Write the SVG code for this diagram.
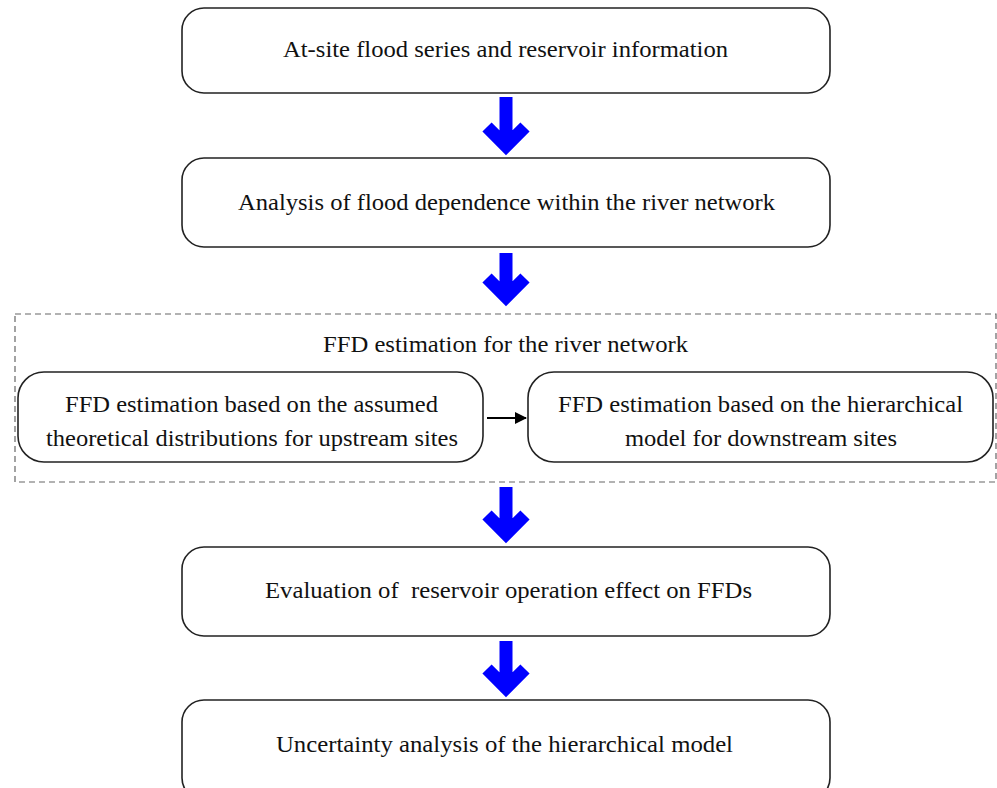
<svg xmlns="http://www.w3.org/2000/svg" width="997" height="788" viewBox="0 0 997 788">
<defs>
<style>
.box{fill:#fff;stroke:#222;stroke-width:1.6}
.t{font-family:"Liberation Serif","Times New Roman",serif;font-size:24px;fill:#111;text-anchor:middle}
.big{stroke:#0000ff;stroke-width:13;fill:none;stroke-linejoin:miter}
</style>
<marker id="ah" markerWidth="12" markerHeight="12" refX="11" refY="6" orient="auto" markerUnits="userSpaceOnUse">
<path d="M0,0 L12,6 L0,12 z" fill="#000"/>
</marker>
</defs>
<rect width="997" height="788" fill="#fff"/>
<g id="connectors">
<path class="big" d="M506,97 V146 M487,127 L506,146 L525,127"/>
<path class="big" d="M506,253 V297 M487,278 L506,297 L525,278"/>
<path class="big" d="M506,487 V534 M487,515 L506,534 L525,515"/>
<path class="big" d="M506,641 V688 M487,669 L506,688 L525,669"/>
<line x1="487" y1="418" x2="526" y2="418" stroke="#000" stroke-width="2.2" marker-end="url(#ah)"/>
</g>
<g id="n1"><rect class="box" x="182" y="8" width="648" height="85" rx="22"/><text class="t" x="505.5" y="57" textLength="445" lengthAdjust="spacingAndGlyphs">At-site flood series and reservoir information</text></g>
<g id="n2"><rect class="box" x="182" y="158" width="648" height="89" rx="22"/><text class="t" x="506.5" y="210" textLength="537" lengthAdjust="spacingAndGlyphs">Analysis of flood dependence within the river network</text></g>
<g id="group"><rect x="15" y="314" width="981" height="168" fill="none" stroke="#666" stroke-width="1.2" stroke-dasharray="6,4"/><text class="t" x="505.5" y="352" textLength="365" lengthAdjust="spacingAndGlyphs">FFD estimation for the river network</text></g>
<g id="n3"><rect class="box" x="18" y="372" width="465" height="90" rx="26"/><text class="t" x="251.5" y="412" textLength="373" lengthAdjust="spacingAndGlyphs">FFD estimation based on the assumed</text><text class="t" x="252" y="446" textLength="412" lengthAdjust="spacingAndGlyphs">theoretical distributions for upstream sites</text></g>
<g id="n4"><rect class="box" x="528" y="372" width="465" height="90" rx="26"/><text class="t" x="760.5" y="412" textLength="405" lengthAdjust="spacingAndGlyphs">FFD estimation based on the hierarchical</text><text class="t" x="761" y="446" textLength="272" lengthAdjust="spacingAndGlyphs">model for downstream sites</text></g>
<g id="n5"><rect class="box" x="182" y="547" width="648" height="89" rx="22"/><text class="t" x="508.5" y="598" textLength="487" lengthAdjust="spacingAndGlyphs" style="white-space:pre">Evaluation of  reservoir operation effect on FFDs</text></g>
<g id="n6"><rect class="box" x="182" y="700" width="648" height="100" rx="22"/><text class="t" x="504.5" y="752" textLength="457" lengthAdjust="spacingAndGlyphs">Uncertainty analysis of the hierarchical model</text></g>
</svg>
